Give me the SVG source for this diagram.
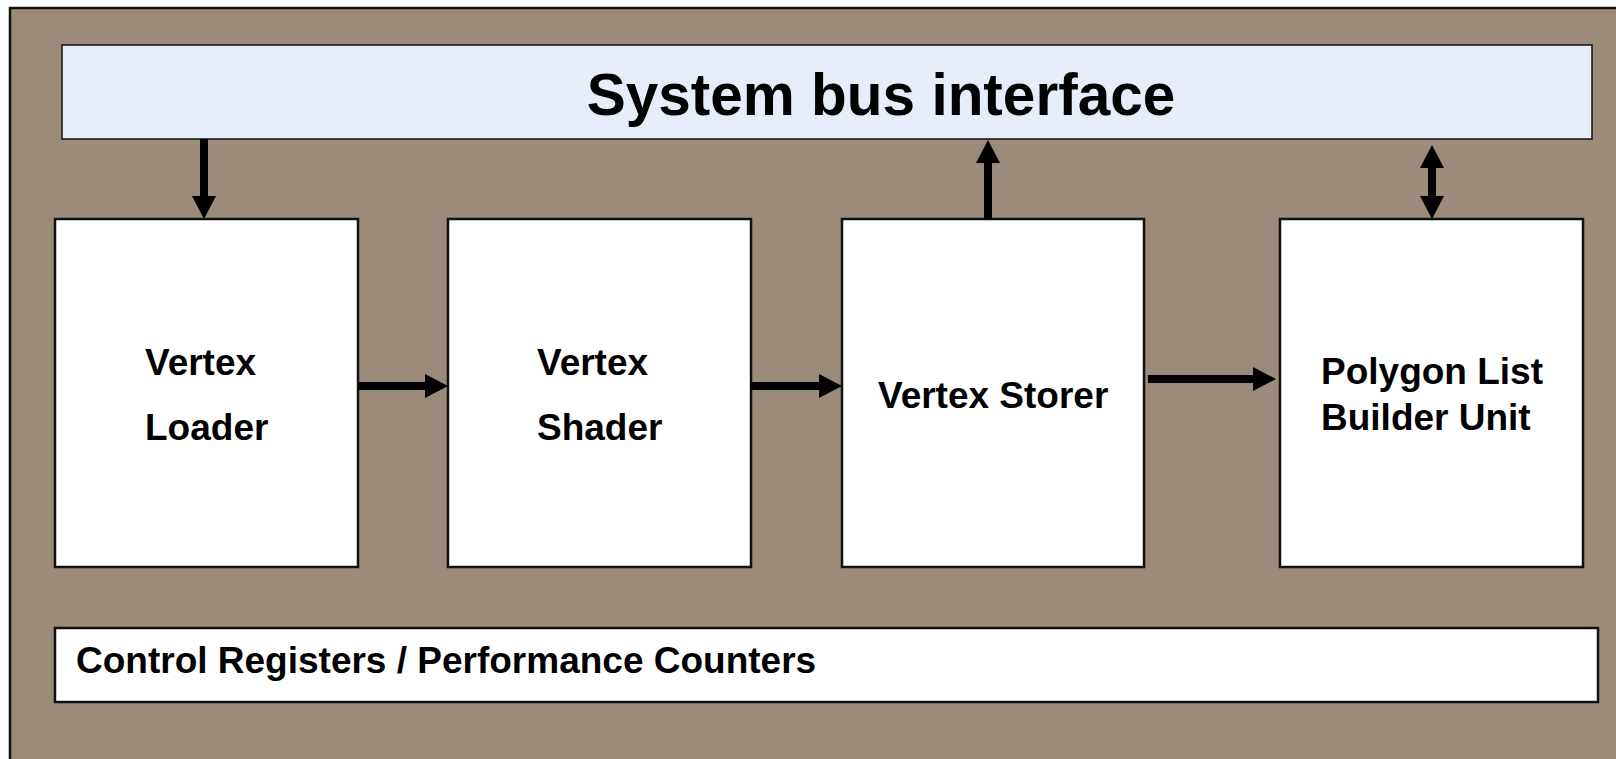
<svg xmlns="http://www.w3.org/2000/svg" width="1616" height="759" viewBox="0 0 1616 759">
  <defs>
    <style>
      .frame { fill: #9b8b7b; stroke: #111; stroke-width: 2.5; }
      .bus { fill: #e6edf8; stroke: #111; stroke-width: 1.5; }
      .block { fill: #ffffff; stroke: #111; stroke-width: 2.5; }
      .label { font-family: "Liberation Sans", Arial, sans-serif; font-weight: bold; font-size: 37px; fill: #000; }
      .title { font-family: "Liberation Sans", Arial, sans-serif; font-weight: bold; font-size: 58.5px; fill: #000; }
      .wire { stroke: #000; stroke-width: 8; fill: none; }
    </style>
    <marker id="head" markerUnits="userSpaceOnUse" markerWidth="24" markerHeight="24" viewBox="0 0 23 24" refX="2" refY="12" orient="auto-start-reverse">
      <path d="M0,0 L23,12 L0,24 z" fill="#000"/>
    </marker>
  </defs>

  <rect x="0" y="0" width="1616" height="759" fill="#ffffff"/>
  <rect class="frame" x="10" y="8" width="1620" height="770"/>

  <g id="system-bus">
    <rect class="bus" x="62" y="45" width="1530" height="94"/>
    <text class="title" x="881" y="115" text-anchor="middle">System bus interface</text>
  </g>

  <g id="vertex-loader">
    <rect class="block" x="55" y="219" width="303" height="348"/>
    <text class="label" x="145" y="375">Vertex</text>
    <text class="label" x="145" y="440">Loader</text>
  </g>

  <g id="vertex-shader">
    <rect class="block" x="448" y="219" width="303" height="348"/>
    <text class="label" x="537" y="375">Vertex</text>
    <text class="label" x="537" y="440">Shader</text>
  </g>

  <g id="vertex-storer">
    <rect class="block" x="842" y="219" width="302" height="348"/>
    <text class="label" x="878" y="408">Vertex Storer</text>
  </g>

  <g id="polygon-list-builder">
    <rect class="block" x="1280" y="219" width="303" height="348"/>
    <text class="label" x="1321" y="384">Polygon List</text>
    <text class="label" x="1321" y="430">Builder Unit</text>
  </g>

  <g id="control-registers">
    <rect class="block" x="55" y="628" width="1543" height="74"/>
    <text class="label" x="76" y="673">Control Registers / Performance Counters</text>
  </g>

  <g id="connectors">
    <line class="wire" x1="204" y1="139" x2="204" y2="198" marker-end="url(#head)"/>
    <line class="wire" x1="988" y1="219" x2="988" y2="161" marker-end="url(#head)"/>
    <line class="wire" x1="1432" y1="166" x2="1432" y2="198" marker-start="url(#head)" marker-end="url(#head)"/>
    <line class="wire" x1="358" y1="386" x2="427" y2="386" marker-end="url(#head)"/>
    <line class="wire" x1="751" y1="386" x2="821" y2="386" marker-end="url(#head)"/>
    <line class="wire" x1="1148" y1="379" x2="1255" y2="379" marker-end="url(#head)"/>
  </g>
</svg>
